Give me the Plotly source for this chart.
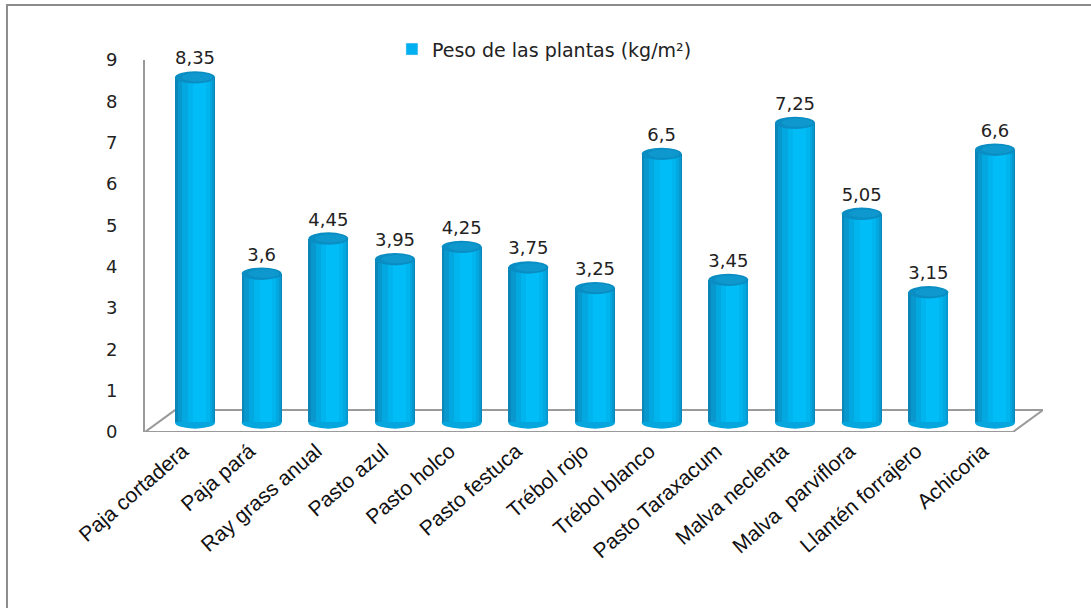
import plotly.graph_objects as go

# Plant weights per species (kg/m²)
especies = ["Paja cortadera", "Paja pará", "Ray grass anual", "Pasto azul", "Pasto holco",
            "Pasto festuca", "Trébol rojo", "Trébol blanco", "Pasto Taraxacum",
            "Malva neclenta", "Malva  parviflora", "Llantén forrajero", "Achicoria"]
peso = [8.35, 3.6, 4.45, 3.95, 4.25, 3.75, 3.25, 6.5, 3.45, 7.25, 5.05, 3.15, 6.6]
y_ticks = list(range(0, 10))

serie = "Peso de las plantas (kg/m²)"
xpos = list(range(len(especies)))

fig = go.Figure()

# Cylinder body built from overlaid bars of decreasing width (dark edges, bright core)
layers = [
    (-0.30, 0.60, "#0A86B8"),
    (-0.26, 0.55, "#0898CD"),
    (-0.19, 0.45, "#04A8E0"),
    (-0.11, 0.33, "#00B4EE"),
    (-0.03, 0.19, "#00BDF8"),
]
for k, (off, w, col) in enumerate(layers):
    fig.add_trace(go.Bar(
        x=xpos, y=peso, yaxis="y2", offset=off, width=w,
        marker=dict(color=col, line=dict(width=0)),
        name=serie, showlegend=False, hoverinfo="skip" if k else None,
    ))

# Legend entry
fig.add_trace(go.Bar(x=[None], y=[None], name=serie, marker_color="#00B0F0", showlegend=True))

# Value labels with decimal comma (invisible marker keeps the text clear of the cap)
fig.add_trace(go.Scatter(
    x=xpos, y=peso, yaxis="y2", mode="markers+text",
    marker=dict(size=12, opacity=0),
    text=[f"{v:g}".replace(".", ",") for v in peso],
    textposition="top center",
    textfont=dict(family="DejaVu Sans", size=18, color="#222222"),
    showlegend=False, hoverinfo="skip", cliponaxis=False,
))

shapes = []
cap = 0.15
for i, v in enumerate(peso):
    # bottom rim
    shapes.append(dict(type="circle", xref="x", yref="y2", layer="below",
                       x0=i - 0.30, x1=i + 0.30, y0=-cap, y1=cap,
                       fillcolor="#05A6DE", line=dict(width=0)))
    # top cap
    shapes.append(dict(type="circle", xref="x", yref="y2", layer="above",
                       x0=i - 0.30, x1=i + 0.30, y0=v - cap, y1=v + cap,
                       fillcolor="#0A8DC2", line=dict(width=0)))
    shapes.append(dict(type="circle", xref="x", yref="y2", layer="above",
                       x0=i - 0.20, x1=i + 0.26, y0=v - cap * 0.65, y1=v + cap * 0.7,
                       fillcolor="#0E98CE", line=dict(width=0)))

# Floor of the chart
xl, xr = -0.75, len(especies) - 0.73
depth_x, depth_y = 0.45, 0.53
shapes.append(dict(type="path", xref="x", yref="y", layer="below",
                   path=f"M {xl},0 L {xr},0 L {xr + depth_x},{depth_y} L {xl + depth_x},{depth_y} Z",
                   line=dict(color="#9A9A9A", width=2)))
# Outer frame
shapes.append(dict(type="rect", xref="paper", yref="paper",
                   x0=-0.1537, x1=1.2, y0=-0.7, y1=1.148,
                   line=dict(color="#8C8C8C", width=2)))

fig.update_layout(
    width=1091, height=608,
    margin=dict(l=145, r=48, t=60, b=176),
    paper_bgcolor="white", plot_bgcolor="white",
    barmode="overlay", bargap=0,
    shapes=shapes,
    showlegend=True,
    legend=dict(x=0.275, y=1.08, xanchor="left", yanchor="top",
                font=dict(family="DejaVu Sans", size=19, color="#222222"),
                bgcolor="rgba(0,0,0,0)"),
    xaxis=dict(range=[xl, xr + depth_x], tickmode="array", tickvals=xpos, ticktext=especies,
               tickangle=-41, showline=False, showgrid=False, zeroline=False, ticks="",
               tickfont=dict(family="Liberation Sans", size=21, color="#111111"),
               ticklabelshift=-12, ticklabelstandoff=2),
    yaxis=dict(range=[0, 9], tickvals=y_ticks, showgrid=False, zeroline=False,
               showline=True, linecolor="#9A9A9A", linewidth=2, ticks="",
               ticklabelstandoff=22,
               tickfont=dict(family="DejaVu Sans", size=18, color="#222222")),
    yaxis2=dict(range=[-0.23, 8.77], overlaying="y", visible=False),
)

fig.write_html("out.html")
